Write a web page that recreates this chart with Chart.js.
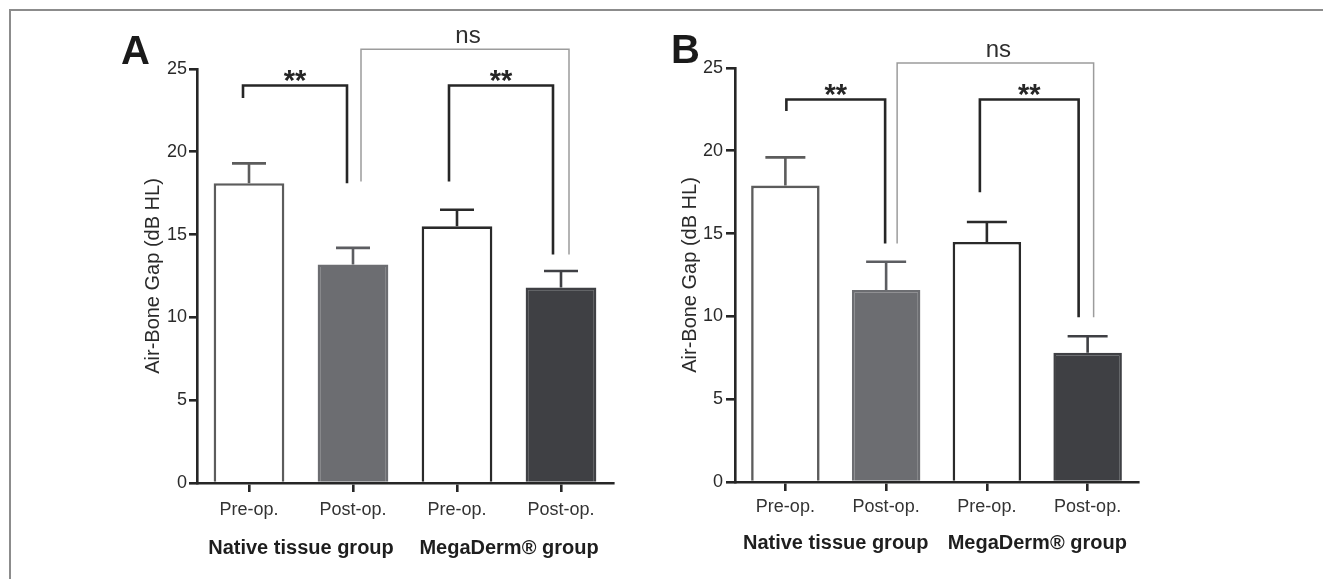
<!DOCTYPE html>
<html><head><meta charset="utf-8">
<script src="https://cdn.jsdelivr.net/npm/chart.js@4.4.1/dist/chart.umd.min.js"></script>
<style>
html,body{margin:0;padding:0;background:#fff;}
body{width:1323px;height:579px;position:relative;overflow:hidden;}
#frame{position:absolute;left:9px;top:9px;width:1314px;height:570px;border-top:2px solid #8c8c8c;border-left:2px solid #8c8c8c;box-sizing:border-box;}
.wrap{position:absolute;top:0;height:579px;}
#wa{left:0;width:660px;}
#wb{left:660px;width:663px;}
canvas{display:block;}
</style></head><body>
<div id="frame"></div>
<div class="wrap" id="wa"><canvas id="ca" width="660" height="579"></canvas></div>
<div class="wrap" id="wb"><canvas id="cb" width="663" height="579"></canvas></div>
<script>
// ---- data ----
const categories = ['Pre-op.', 'Post-op.', 'Pre-op.', 'Post-op.'];
const groups = ['Native tissue group', 'MegaDerm® group'];
const yTicks = [0, 5, 10, 15, 20, 25];
const yTitle = 'Air-Bone Gap (dB HL)';
const meanA = [18.1, 13.2, 15.5, 11.8];
const semA  = [1.2, 1.0, 1.0, 1.0];
const meanB = [17.9, 11.6, 14.5, 7.8];
const semB  = [1.7, 1.7, 1.2, 1.0];
// [fromIndex, toIndex, bracketValue, leftLegEnd, rightLegEnd, label]
const bracketsA = [[0, 1, 24.0, 23.25, 18.1, '**'], [1, 3, 26.2, 18.2, 13.8, 'ns'], [2, 3, 24.0, 18.2, 13.8, '**']];
const bracketsB = [[0, 1, 23.1, 22.4, 14.4, '**'], [1, 3, 25.3, 14.4, 9.95, 'ns'], [2, 3, 23.1, 17.5, 9.95, '**']];

// ---- styles ----
const FONT = '"Liberation Sans", Arial, Helvetica, sans-serif';
Chart.defaults.font.family = FONT;
Chart.defaults.color = '#2a2a2a';
const fills = ['#ffffff', '#6c6d71', '#ffffff', '#3f4044'];
const borders = ['#5c5c5c', '#6c6d71', '#2a2a2a', '#3f4044'];
const errColors = ['#5c5c5c', '#5c5d61', '#2a2a2a', '#3f4044'];

const layoutA = {padTop: 69, padRight: 47, yWidth: 197, titlePad: 141, tickLen: 8, tickPad: 2,
  xTickPad: 7, x2Pad: 13, xH: 40, x2H: 56, capW: 34, letter: 'A', lx: 121, ly: 64,
  bstyle: [{dx1: -6, dx2: -6}, {dx1: 8, dx2: 8}, {dx1: -8, dx2: -8}]};
const layoutB = {padTop: 68, padRight: 185, yWidth: 75, titlePad: 18, tickLen: 9, tickPad: 3,
  xTickPad: 5, x2Pad: 9, xH: 40, x2H: 57, capW: 40, letter: 'B', lx: 11, ly: 63,
  bstyle: [{dx1: 1, dx2: -1}, {dx1: 11, dx2: 6}, {dx1: -7, dx2: -9}]};

function makeChart(id, means, sems, brackets, L) {
  const overlay = {
    id: 'overlay',
    afterDraw(chart) {
      const ctx = chart.ctx;
      const xs = chart.scales.x, ys = chart.scales.y;
      const meta = chart.getDatasetMeta(0);
      ctx.save();
      // error bars (upper only)
      meta.data.forEach((el, i) => {
        const yTop = ys.getPixelForValue(means[i] + sems[i]);
        ctx.strokeStyle = errColors[i];
        ctx.lineWidth = 2.6;
        ctx.lineCap = 'butt';
        ctx.beginPath();
        ctx.moveTo(el.x, el.y);
        ctx.lineTo(el.x, yTop);
        ctx.moveTo(el.x - L.capW / 2, yTop);
        ctx.lineTo(el.x + L.capW / 2, yTop);
        ctx.stroke();
      });
      // significance brackets
      brackets.forEach((b, k) => {
        const st = L.bstyle[k];
        const ns = b[5] === 'ns';
        const x1 = xs.getPixelForValue(b[0]) + st.dx1;
        const x2 = xs.getPixelForValue(b[1]) + st.dx2;
        const yT = ys.getPixelForValue(b[2]);
        const y1 = ys.getPixelForValue(b[3]);
        const y2 = ys.getPixelForValue(b[4]);
        ctx.strokeStyle = ns ? '#9c9c9c' : '#262626';
        ctx.lineWidth = ns ? 1.5 : 2.6;
        ctx.lineJoin = 'miter';
        ctx.beginPath();
        ctx.moveTo(x1, y1); ctx.lineTo(x1, yT); ctx.lineTo(x2, yT); ctx.lineTo(x2, y2);
        ctx.stroke();
        ctx.fillStyle = '#262626';
        ctx.textAlign = 'center';
        ctx.textBaseline = 'alphabetic';
        if (ns) {
          ctx.font = '24px ' + FONT;
          ctx.fillStyle = '#2e2e2e';
          ctx.fillText(b[5], (x1 + x2) / 2 + 3, yT - 6.5);
        } else {
          ctx.font = 'bold 29px ' + FONT;
          ctx.fillText(b[5], (x1 + x2) / 2, yT + 4.5);
        }
      });
      // panel letter
      ctx.font = 'bold 40px ' + FONT;
      ctx.fillStyle = '#1a1a1a';
      ctx.textAlign = 'left';
      ctx.textBaseline = 'alphabetic';
      ctx.fillText(L.letter, L.lx, L.ly);
      ctx.restore();
    }
  };
  return new Chart(document.getElementById(id), {
    type: 'bar',
    data: {
      labels: categories,
      datasets: [{
        data: means,
        backgroundColor: fills,
        borderColor: borders,
        borderWidth: 2.6,
        borderSkipped: 'start',
        barPercentage: 0.68,
        categoryPercentage: 1.0
      }]
    },
    options: {
      responsive: false,
      animation: false,
      devicePixelRatio: 1,
      layout: {padding: {top: L.padTop, right: L.padRight, left: 0, bottom: 0}},
      plugins: {legend: {display: false}, tooltip: {enabled: false}, title: {display: false}},
      scales: {
        x: {
          position: 'bottom', weight: 0, z: 1, offset: true,
          grid: {offset: false, drawOnChartArea: false, drawTicks: true, tickLength: 9, color: '#262626', lineWidth: 2.6},
          border: {display: true, color: '#262626', width: 2.6},
          ticks: {font: {size: 18}, color: '#333', padding: L.xTickPad, maxRotation: 0, autoSkip: false},
          afterFit: (s) => { s.height = L.xH; }
        },
        x2: {
          type: 'category', labels: groups, position: 'bottom', weight: 1, offset: true,
          grid: {display: false, drawTicks: false},
          border: {display: false},
          ticks: {font: {size: 20, weight: 'bold'}, color: '#1e1e1e', padding: L.x2Pad, maxRotation: 0, autoSkip: false},
          afterFit: (s) => { s.height = L.x2H; }
        },
        y: {
          min: 0, max: 25, z: 1,
          afterBuildTicks: (s) => { s.ticks = yTicks.map(v => ({value: v})); },
          grid: {drawOnChartArea: false, drawTicks: true, tickLength: L.tickLen, color: '#262626', lineWidth: 2.6},
          border: {display: true, color: '#262626', width: 2.6},
          ticks: {font: {size: 18}, color: '#2a2a2a', padding: L.tickPad},
          title: {display: true, text: yTitle, font: {size: 20}, color: '#2a2a2a', padding: {top: L.titlePad, bottom: 0}},
          afterFit: (s) => { s.width = L.yWidth; }
        }
      }
    },
    plugins: [overlay]
  });
}
makeChart('ca', meanA, semA, bracketsA, layoutA);
makeChart('cb', meanB, semB, bracketsB, layoutB);
</script>
</body></html>
